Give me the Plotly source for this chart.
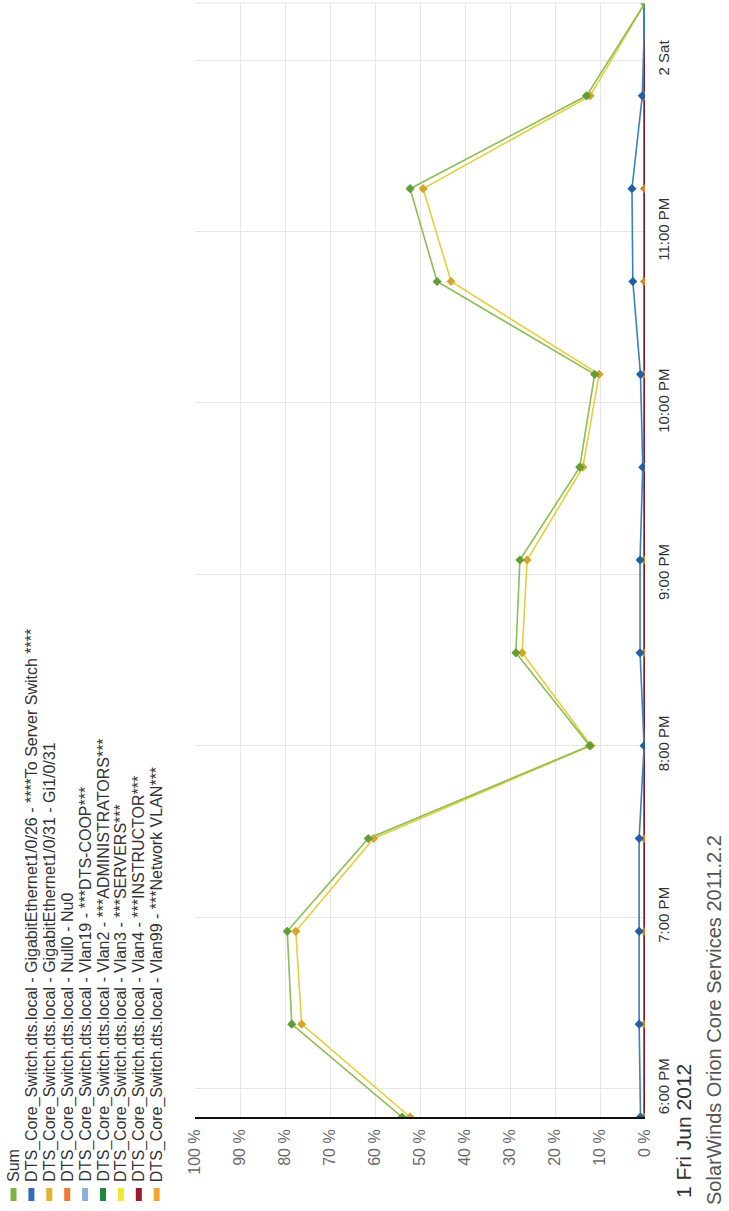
import plotly.graph_objects as go

# Poll times (one sample every 32.5 minutes)
times = [
    "2012-06-01 17:50:00", "2012-06-01 18:22:30", "2012-06-01 18:55:00",
    "2012-06-01 19:27:30", "2012-06-01 20:00:00", "2012-06-01 20:32:30",
    "2012-06-01 21:05:00", "2012-06-01 21:37:30", "2012-06-01 22:10:00",
    "2012-06-01 22:42:30", "2012-06-01 23:15:00", "2012-06-01 23:47:30",
    "2012-06-02 00:20:00",
]

# Utilisation in percent
sum_pct = [54.0, 78.5, 79.5, 61.5, 12.3, 28.7, 27.8, 14.5, 11.2, 46.2, 52.2, 13.0, 0.0]
gi26_pct = [1.0, 1.3, 1.3, 1.3, 0.2, 1.1, 1.1, 0.5, 1.0, 2.7, 2.9, 0.6, 0.0]
gi31_pct = [52.2, 76.3, 77.6, 60.3, 12.0, 27.3, 26.2, 13.8, 10.2, 43.1, 49.3, 12.2, 0.0]
null0_pct = [0.0] * 13
vlan19_pct = [0.0] * 13
vlan2_pct = [0.0] * 13
vlan3_pct = [0.0] * 13
vlan4_pct = [0.0] * 13
vlan99_pct = [0.0] * 13

legend_names = [
    "Sum",
    "DTS_Core_Switch.dts.local - GigabitEthernet1/0/26 - ****To Server Switch ****",
    "DTS_Core_Switch.dts.local - GigabitEthernet1/0/31 - Gi1/0/31",
    "DTS_Core_Switch.dts.local - Null0 - Nu0",
    "DTS_Core_Switch.dts.local - Vlan19 - ***DTS-COOP***",
    "DTS_Core_Switch.dts.local - Vlan2 - ***ADMINISTRATORS***",
    "DTS_Core_Switch.dts.local - Vlan3 - ***SERVERS***",
    "DTS_Core_Switch.dts.local - Vlan4 - ***INSTRUCTOR***",
    "DTS_Core_Switch.dts.local - Vlan99 - ***Network VLAN***",
]
legend_colors = ["#7DB443", "#2F6DB5", "#E0B52C", "#F07A2E", "#8AAEDD",
                 "#1E8A3A", "#F2E535", "#A3172B", "#F5A632"]

tick_times = ["2012-06-01 18:00", "2012-06-01 19:00", "2012-06-01 20:00",
              "2012-06-01 21:00", "2012-06-01 22:00", "2012-06-01 23:00",
              "2012-06-02 00:00"]
tick_text = ["6:00 PM", "7:00 PM", "8:00 PM", "9:00 PM", "10:00 PM",
             "11:00 PM", "2 Sat"]

FONT = "Liberation Sans, Arial, sans-serif"
W, H = 729, 1211
L, R, T, B = 195, 84, 3, 94
PW, PH = W - L - R, H - T - B


def px_x(px):
    return (px - L) / PW


def px_y(py):
    return (H - B - py) / PH


fig = go.Figure()

flat = [
    (null0_pct, "#F07A2E", "#F07A2E", 2),
    (vlan19_pct, "#8AAEDD", "#8AAEDD", 2),
    (vlan2_pct, "#1E8A3A", "#1E8A3A", 2),
    (vlan3_pct, "#F2E535", "#F2E535", 2),
    (vlan99_pct, "#F5A632", "#E08A2A", 4),
    (vlan4_pct, "#7E1A2A", "#D9822B", 3),
]
for vals, lc, mc, lw in flat:
    fig.add_trace(go.Scatter(
        x=vals, y=times, mode="lines+markers",
        line=dict(color=lc, width=lw),
        marker=dict(symbol="diamond", size=7, color=mc),
    ))

series = [
    (gi26_pct, "#3A80C6", "#1F5FA8"),
    (gi31_pct, "#E6CF3A", "#D6A42A"),
    (sum_pct, "#8BBE55", "#5E9E35"),
]
for vals, lc, mc in series:
    fig.add_trace(go.Scatter(
        x=vals, y=times, mode="lines+markers",
        line=dict(color=lc, width=1.6),
        marker=dict(symbol="diamond", size=7, color=mc),
    ))

annotations = []
shapes = []

# Rotated legend (reads bottom to top)
for i, (name, col) in enumerate(zip(legend_names, legend_colors)):
    cx = 13.5 + 17.9 * i
    annotations.append(dict(
        xref="paper", yref="paper", x=px_x(cx), y=px_y(1184),
        xanchor="center", yanchor="bottom", textangle=-90,
        text=name, showarrow=False,
        font=dict(family=FONT, size=16, color="#333333"),
    ))
    shapes.append(dict(
        type="rect", xref="paper", yref="paper",
        x0=px_x(cx - 3), x1=px_x(cx + 3), y0=px_y(1201), y1=px_y(1188),
        fillcolor=col, line=dict(width=0),
    ))

# Date line under the first time label
annotations.append(dict(
    xref="paper", yref="paper", x=px_x(683), y=px_y(1062),
    xanchor="center", yanchor="top", textangle=-90,
    text="1 Fri Jun 2012", showarrow=False,
    font=dict(family=FONT, size=21, color="#333333"),
))

# Footer
annotations.append(dict(
    xref="paper", yref="paper", x=px_x(714), y=px_y(1207),
    xanchor="center", yanchor="bottom", textangle=-90,
    text="SolarWinds Orion Core Services 2011.2.2", showarrow=False,
    font=dict(family=FONT, size=20, color="#555555"),
))

# Thin frame line along the far end of the time axis
shapes.append(dict(
    type="line", xref="paper", yref="paper", x0=0, x1=1, y0=1, y1=1,
    line=dict(color="#E4E4E4", width=1),
))

fig.update_layout(
    width=W, height=H,
    margin=dict(l=L, r=R, t=T, b=B, pad=0),
    paper_bgcolor="white", plot_bgcolor="white",
    showlegend=False,
    annotations=annotations, shapes=shapes,
    xaxis=dict(
        range=[100, 0], dtick=10, tick0=0, ticksuffix=" %",
        tickangle=-90, showgrid=True, gridcolor="#E6E6E6", gridwidth=1,
        zeroline=False, showline=True, linecolor="#111111", linewidth=2,
        ticks="", ticklabelstandoff=4,
        tickfont=dict(family=FONT, size=16, color="#6A6A6A"),
    ),
    yaxis=dict(
        type="date", range=[times[0], times[-1]], side="right",
        tickvals=tick_times, ticktext=tick_text, tickangle=-90,
        showgrid=True, gridcolor="#E6E6E6", gridwidth=1,
        zeroline=False, showline=False, ticks="", ticklabelstandoff=8,
        tickfont=dict(family=FONT, size=15, color="#333333"),
    ),
)

fig.write_html("out.html")
